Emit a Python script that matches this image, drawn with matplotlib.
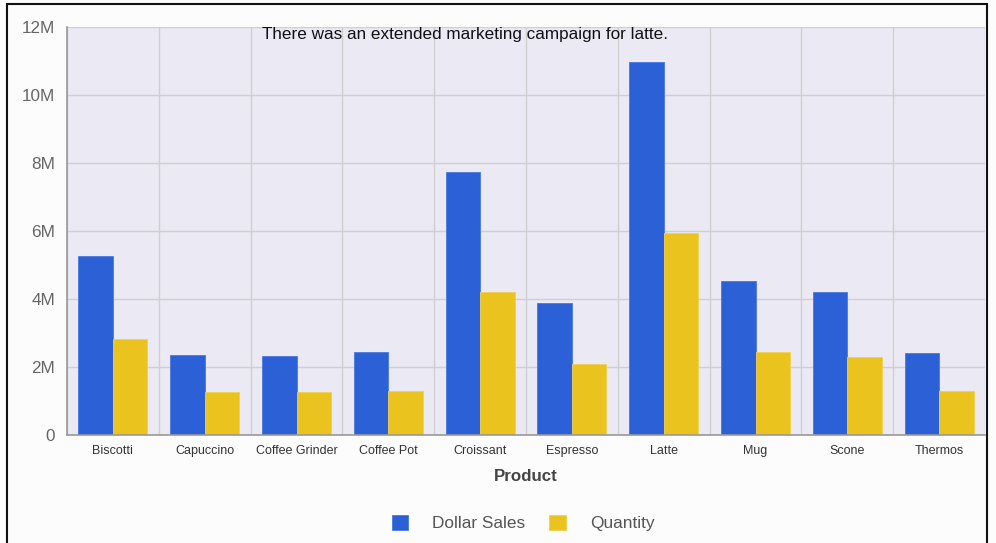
import matplotlib
matplotlib.use("Agg")
import matplotlib.pyplot as plt
import numpy as np
from matplotlib.patches import Rectangle
from matplotlib.ticker import FuncFormatter

products = ["Biscotti", "Capuccino", "Coffee Grinder", "Coffee Pot", "Croissant",
            "Espresso", "Latte", "Mug", "Scone", "Thermos"]
dollar_sales = [5.26, 2.35, 2.32, 2.44, 7.74, 3.88, 10.97, 4.53, 4.21, 2.41]  # millions
quantity = [2.82, 1.26, 1.26, 1.29, 4.21, 2.09, 5.94, 2.44, 2.29, 1.29]       # millions
series_names = ["Dollar Sales", "Quantity"]
y_ticks = [0, 2, 4, 6, 8, 10, 12]
note = "There was an extended marketing campaign for latte."

BLUE = "#2c60d6"
YELLOW = "#ebc31e"
FONT = "Liberation Sans"

fig = plt.figure(figsize=(9.96, 5.43), dpi=100, facecolor="#fbfcfb")
ax = fig.add_axes([67 / 996, 1 - 435 / 543, 918 / 996, 408 / 543])
ax.set_facecolor("#ebe9f4")

x = np.arange(len(products))
w = 0.375
ax.bar(x - w / 2, [v * 1e6 for v in dollar_sales], width=w, color=BLUE,
       edgecolor="#4a78e0", linewidth=0.6, label=series_names[0], zorder=3)
ax.bar(x + w / 2, [v * 1e6 for v in quantity], width=w, color=YELLOW,
       edgecolor="#f0d050", linewidth=0.6, label=series_names[1], zorder=3)

ax.set_xlim(-0.5, len(products) - 0.5)
ax.set_ylim(0, 12e6)
ax.set_yticks([t * 1e6 for t in y_ticks])
ax.yaxis.set_major_formatter(FuncFormatter(lambda v, p: "0" if v == 0 else f"{v / 1e6:.0f}M"))
ax.set_xticks(x)
ax.set_xticklabels(products, fontsize=9, family=FONT, color="#333333")
for lbl in ax.get_yticklabels():
    lbl.set_fontsize(12.3)
    lbl.set_family(FONT)
    lbl.set_color("#666666")
ax.tick_params(axis="y", length=0, pad=8.5)
ax.tick_params(axis="x", length=0, pad=7)

# grid: horizontal at ticks, vertical at category boundaries
for t in y_ticks[1:]:
    ax.axhline(t * 1e6, color="#cfcfcf", linewidth=1, zorder=1)
for b in np.arange(len(products) + 1) - 0.5:
    ax.axvline(b, color="#cfcfcf", linewidth=1, zorder=1)

for side in ["top", "right"]:
    ax.spines[side].set_visible(False)
for side in ["left", "bottom"]:
    ax.spines[side].set_color("#999999")
    ax.spines[side].set_linewidth(1.2)
    ax.spines[side].set_zorder(4)

ax.set_xlabel("Product", fontsize=12.2, fontweight="bold", family=FONT,
              color="#444444", labelpad=9)

ax.text((465 - 67) / 918, 1 - 7 / 408, note, transform=ax.transAxes,
        ha="center", va="center", fontsize=12.3, family=FONT, color="#111111", zorder=5)

leg = fig.legend(loc="center", bbox_to_anchor=(523 / 996, 1 - 523 / 543), ncol=2,
                 frameon=False, prop={"family": FONT, "size": 12.4},
                 handlelength=0.95, handleheight=1.0, handletextpad=1.4,
                 columnspacing=1.4)
for t in leg.get_texts():
    t.set_color("#555555")

# outer frame
fig.patches.append(Rectangle((7 / 996, -0.05), 980 / 996, 1 - 4 / 543 + 0.05,
                             transform=fig.transFigure, fill=False,
                             edgecolor="#111111", linewidth=1.5))

fig.savefig("out.png", dpi=100, facecolor=fig.get_facecolor())
